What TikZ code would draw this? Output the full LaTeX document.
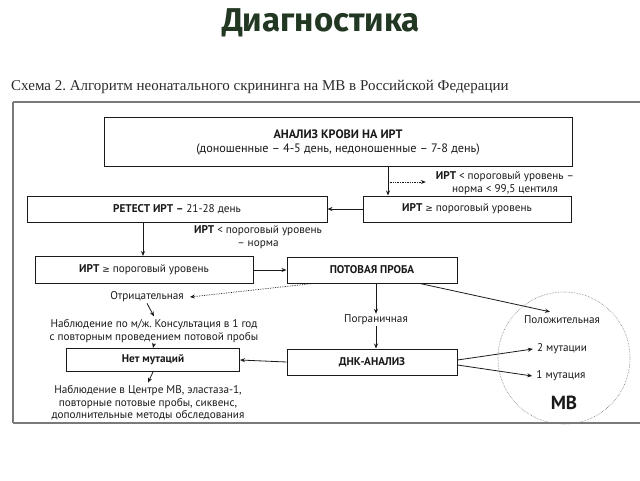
\documentclass[tikz,border=0pt]{standalone}
\usepackage{fontspec}
\setmainfont{PT Sans}
\newfontfamily\capfont{Liberation Serif}
\newfontfamily\titlefont{Fira Sans}
\newfontfamily\symfont{DejaVu Sans}
\usetikzlibrary{arrows.meta}
\definecolor{ink}{HTML}{1A1A1A}
\definecolor{subink}{HTML}{2A2A2A}
\definecolor{framegray}{HTML}{7A7A7A}
\definecolor{titlegreen}{HTML}{223822}
\newcommand{\gesign}{{\symfont\small ≥}}
\frenchspacing

\begin{document}
\begin{tikzpicture}[
    x=1pt, y=-1pt,
    >={Stealth[length=5pt, width=4pt]},
    arr/.style={->, line width=0.8pt, ink},
    dotarr/.style={->, line width=0.7pt, ink, densely dotted},
    every node/.style={font=\fontsize{11.2}{12.4}\selectfont, text=ink, align=center, inner sep=1pt},
    % Flow box
    flowbox/.style={rectangle, draw=ink, line width=1pt, fill=white, inner sep=0pt},
    frame/.style={draw=framegray, line width=1.1pt}
]
\useasboundingbox (0,0) rectangle (640,480);

% ========== Heading ==========
\node[font=\titlefont\bfseries\fontsize{33}{35}\selectfont, text=titlegreen] (title) at (321,23) {Диагностика};
\node[anchor=west, font=\capfont\fontsize{15}{17}\selectfont, text=subink] (caption) at (10,87)
    {Схема 2. Алгоритм неонатального скрининга на МВ в Российской Федерации};

% ========== Frame (open at the right) ==========
\coordinate (fnw) at (13,102);
\coordinate (fsw) at (13,423);
\draw[frame] (fnw) -- (fsw);
\draw[frame] (fnw) -- ++(627,0);
\draw[frame] (fsw) -- ++(627,0);

% ========== Circle MB ==========
\node[circle, draw=framegray, densely dotted, line width=0.6pt, minimum size=132, inner sep=0pt] (mvzone) at (564,358) {};

% ========== Boxes ==========
\node[flowbox, minimum width=468, minimum height=49, font=\fontsize{12.2}{14}\selectfont] (blood) at (338,142)
    {\textbf{АНАЛИЗ КРОВИ НА ИРТ}\\(доношенные – 4-5 день, недоношенные – 7-8 день)};
\node[flowbox, minimum width=300, minimum height=26] (retest) at (177,209)
    {\textbf{РЕТЕСТ ИРТ –} 21-28 день};
\node[flowbox, minimum width=208, minimum height=26] (irthigh) at (467,209)
    {\textbf{ИРТ} \gesign{} пороговый уровень};
\node[flowbox, minimum width=218, minimum height=27] (irtpos) at (144,270)
    {\textbf{ИРТ} \gesign{} пороговый уровень};
\node[flowbox, minimum width=170, minimum height=26] (sweat) at (372,270)
    {\textbf{ПОТОВАЯ ПРОБА}};
\node[flowbox, minimum width=170, minimum height=26] (dna) at (372,362)
    {\textbf{ДНК-АНАЛИЗ}};
\node[flowbox, minimum width=173, minimum height=23] (nomut) at (153,360)
    {\textbf{Нет мутаций}};

% ========== Notes ==========
\node (normnote) at (505,183) {\textbf{ИРТ} < пороговый уровень –\\норма < 99,5 центиля};
\node (retnote) at (258,237) {\textbf{ИРТ} < пороговый уровень\\– норма};
\node (neg) at (147,297) {Отрицательная};
\node (obs1) at (154,331) {Наблюдение по м/ж. Консультация в 1 год\\с повторным проведением потовой пробы};
\node (obs2) at (148,403) {Наблюдение в Центре МВ, эластаза-1,\\повторные потовые пробы, сиквенс,\\дополнительные методы обследования};
\node (border) at (376,320) {Пограничная};
\node (pos) at (562,320) {Положительная};
\node (two) at (562,349) {2 мутации};
\node (one) at (561,376) {1 мутация};
\node[font=\bfseries\fontsize{19}{21}\selectfont] (mv) at (564,403) {МВ};

% ========== Arrows ==========
\draw[arr] ([xshift=50pt]blood.south) -- ([xshift=50pt]blood.south |- irthigh.north);
\coordinate (tap) at ([xshift=50pt, yshift=-15pt]blood.south);
\draw[dotarr] (tap) -- ([xshift=-9pt]normnote.west |- tap);
\draw[arr] (irthigh.west) -- (retest.east);
\draw[arr] ([xshift=-34pt]retest.south) -- ([xshift=-34pt]retest.south |- irtpos.north);
\draw[arr] (irtpos.east) -- (sweat.west);
\draw[dotarr] ([xshift=-59pt]sweat.south) -- ([xshift=5pt]neg.east);
\draw[arr] (neg.south) -- ([yshift=2pt]obs1.north);
\draw[arr] (obs1.south) -- (nomut.north);
\draw[arr] (nomut.south) -- ([yshift=2pt]obs2.north);
\draw[arr] ([xshift=4pt]sweat.south) -- (border.north);
\draw[arr] (border.south) -- (border.south |- dna.north);
\draw[arr] (dna.west) -- (nomut.east);
\draw[arr] ([xshift=48pt]sweat.south) -- ([xshift=-12pt, yshift=3pt]pos.north);
\draw[arr] ([yshift=2pt]dna.east) -- ([xshift=-3pt]two.west);
\draw[arr] ([yshift=-3pt]dna.east) -- ([xshift=-3pt]one.west);

\end{tikzpicture}
\end{document}
